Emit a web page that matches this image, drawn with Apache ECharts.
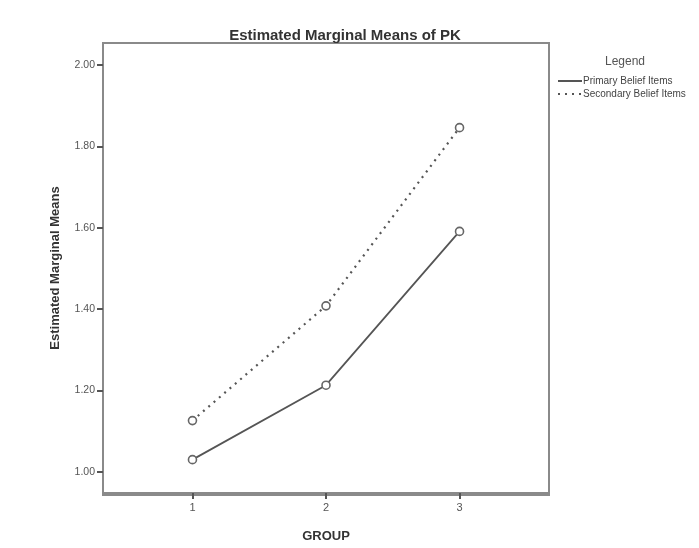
<!DOCTYPE html>
<html>
<head>
<meta charset="utf-8">
<script src="https://cdn.jsdelivr.net/npm/echarts@6/dist/echarts.min.js"></script>
<style>html,body{margin:0;padding:0;background:#fff;}#c{width:699px;height:548px;}</style>
</head>
<body>
<div id="c"></div>
<script>
var groups = [1, 2, 3];
var primary = [1.03, 1.213, 1.591];
var secondary = [1.126, 1.408, 1.846];
var yTicks = [1.00, 1.20, 1.40, 1.60, 1.80, 2.00];
var seriesNames = ['Primary Belief Items', 'Secondary Belief Items'];

var chart = echarts.init(document.getElementById('c'));
function pts(vals){ return groups.map(function(g,i){ return [g, vals[i]]; }); }
var lineCol = '#555';
var font = '"Liberation Sans", Arial';
chart.setOption({
  backgroundColor: '#ffffff',
  animation: false,
  title: [{
    text: 'Estimated Marginal Means of PK',
    left: 340, top: 23, textAlign: 'center',
    textStyle: {fontFamily: font, fontSize: 15, fontWeight: 'bold', color: '#333'}
  }, {
    text: 'Legend',
    left: 620, top: 51, textAlign: 'center',
    textStyle: {fontFamily: font, fontSize: 12, fontWeight: 'normal', color: '#555'}
  }],
  legend: {
    orient: 'vertical', left: 552, top: 71, itemGap: 3, itemWidth: 24, itemHeight: 10,
    data: seriesNames,
    itemStyle: {opacity: 0},
    textStyle: {fontFamily: font, fontSize: 10, color: '#444', padding: [0,0,0,-4]}
  },
  grid: {left: 103, right: 150, top: 43, bottom: 53},
  xAxis: {
    type: 'value', min: 0.33, max: 3.67,
    name: 'GROUP', nameLocation: 'middle', nameGap: 37,
    nameTextStyle: {fontFamily: font, fontSize: 13, fontWeight: 'bold', color: '#333'},
    axisLine: {show: true, lineStyle: {color: '#8a8a8a', width: 2}},
    axisTick: {show: true, length: 6, customValues: groups, lineStyle: {color: '#555', width: 2}},
    axisLabel: {customValues: groups, margin: 9, fontFamily: font, fontSize: 11, color: '#555'},
    splitLine: {show: false}
  },
  yAxis: {
    type: 'value', min: 0.948, max: 2.054,
    name: 'Estimated Marginal Means', nameLocation: 'middle', nameGap: 41,
    nameTextStyle: {fontFamily: font, fontSize: 13, fontWeight: 'bold', color: '#333'},
    axisLine: {show: true, lineStyle: {color: '#8a8a8a', width: 2}},
    axisTick: {show: true, length: 6, customValues: yTicks, lineStyle: {color: '#555', width: 2}},
    axisLabel: {customValues: yTicks, margin: 8, fontFamily: font, fontSize: 10.5, color: '#555',
      formatter: function(v){ return v.toFixed(2); }},
    splitLine: {show: false}
  },
  series: [{
    name: seriesNames[0], type: 'line', data: pts(primary),
    symbol: 'circle', symbolSize: 8, showSymbol: true,
    lineStyle: {color: lineCol, width: 1.8, type: 'solid'},
    itemStyle: {color: '#fff', borderColor: '#666', borderWidth: 1.6}
  }, {
    name: seriesNames[1], type: 'line', data: pts(secondary),
    symbol: 'circle', symbolSize: 8, showSymbol: true,
    lineStyle: {color: lineCol, width: 2.2, type: [2, 5]},
    itemStyle: {color: '#fff', borderColor: '#666', borderWidth: 1.6}
  }],
  graphic: [{
    type: 'rect', shape: {x: 103, y: 43, width: 446, height: 452},
    style: {fill: 'none', stroke: '#8a8a8a', lineWidth: 2}, silent: true, z: -1
  }]
});
</script>
</body>
</html>
